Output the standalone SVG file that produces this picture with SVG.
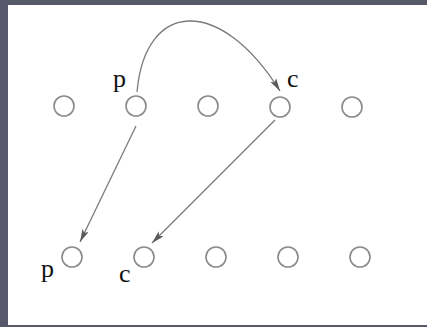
<svg xmlns="http://www.w3.org/2000/svg" width="427" height="327" viewBox="0 0 427 327">
<style>
.node{fill:none;stroke:#8a8a8a;stroke-width:1.6}
.lbl{font-family:"Liberation Serif",serif;font-size:26px;fill:#111}
.edge{fill:none;stroke:#7a7a7a;stroke-width:1.3}
</style>
<defs>
<marker id="ah" markerUnits="userSpaceOnUse" markerWidth="14" markerHeight="8" refX="13" refY="3.5" orient="auto">
<path d="M0,0 L13,3.5 L0,7 L3,3.5 z" fill="#5a5a5a"/>
</marker>
</defs>
<rect x="0" y="0" width="427" height="327" fill="#575869"/>
<rect x="8" y="5" width="419" height="320" fill="#ffffff"/>
<g id="top1"><circle class="node" cx="64" cy="106" r="10"/></g>
<g id="top2"><circle class="node" cx="136" cy="106" r="10"/><text class="lbl" x="113" y="87">p</text></g>
<g id="top3"><circle class="node" cx="208" cy="106" r="10"/></g>
<g id="top4"><circle class="node" cx="280" cy="107" r="10"/><text class="lbl" x="287" y="87">c</text></g>
<g id="top5"><circle class="node" cx="352" cy="107" r="10"/></g>
<g id="bot1"><circle class="node" cx="72" cy="257" r="10"/><text class="lbl" x="41" y="277">p</text></g>
<g id="bot2"><circle class="node" cx="144" cy="257" r="10"/><text class="lbl" x="119" y="282">c</text></g>
<g id="bot3"><circle class="node" cx="216" cy="257" r="10"/></g>
<g id="bot4"><circle class="node" cx="288" cy="257" r="10"/></g>
<g id="bot5"><circle class="node" cx="360" cy="257" r="10"/></g>
<g id="edges">
<path class="edge" d="M137,92 C145,0 220,-5 280,91" marker-end="url(#ah)"/>
<path class="edge" d="M136,126 L80,242" marker-end="url(#ah)"/>
<path class="edge" d="M275,120 L152,243" marker-end="url(#ah)"/>
</g>
</svg>
